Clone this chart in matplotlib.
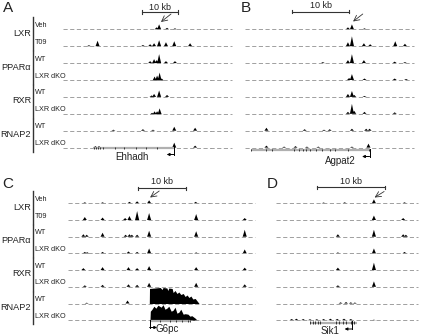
import matplotlib.pyplot as plt
import numpy as np

plt.rcParams['font.family'] = ['Liberation Sans', 'DejaVu Sans']

W, H = 421, 335

factors = ['LXR', 'PPARα', 'RXR', 'RNAP2']
conditions = [['Veh', 'T09'], ['WT', 'LXR dKO'], ['WT', 'LXR dKO'], ['WT', 'LXR dKO']]

# ChIP-seq peaks per track: (position in kb from window start, signal)
# panel A - Ehhadh locus
a_peaks = [
    [(26.0, 2), (26.7, 5), (28.9, 1.5), (31.1, 1)],
    [(7.2, 1), (9.6, 5.5), (22.2, 1.2), (24.2, 2), (25.3, 3), (26.7, 6), (28.6, 4), (30.9, 5), (35.3, 3)],
    [(24.2, 2), (25.3, 4), (26.0, 3), (26.7, 9), (28.6, 2), (31.1, 2)],
    [(25.3, 4), (26.0, 5), (26.7, 8), (27.3, 2)],
    [(24.6, 1.5), (25.3, 3), (26.7, 6.5), (28.9, 2)],
    [(24.6, 1.5), (25.3, 3), (26.0, 3), (26.7, 6)],
    [(14.0, 1), (22.2, 1.5), (25.0, 1), (30.9, 4), (36.7, 3)],
    [(9.0, 1.5), (10.0, 1.5), (30.9, 5), (36.7, 2)],
]
# panel B - Agpat2 locus
b_peaks = [
    [(24.2, 2), (24.9, 5), (27.1, 1)],
    [(24.2, 4), (24.9, 10), (27.0, 3), (28.1, 2), (32.5, 5), (34.2, 2.5)],
    [(19.8, 1), (24.2, 3), (24.9, 9), (27.0, 3), (32.4, 1.5), (34.2, 1)],
    [(24.4, 2), (24.9, 6), (27.1, 1.5), (32.4, 1.5), (34.4, 1)],
    [(24.2, 3), (24.9, 6), (25.3, 2), (27.1, 1)],
    [(24.2, 2), (24.9, 10), (25.3, 3), (27.1, 2), (32.4, 1.5)],
    [(9.9, 3), (16.6, 1.5), (20.0, 1), (21.0, 1.5), (24.9, 2), (27.4, 2), (28.0, 2)],
    [(9.9, 2), (13.0, 1), (15.0, 1.5), (17.0, 1), (19.0, 1), (24.9, 1), (27.8, 4)],
]
# panel C - G6pc locus
c_peaks = [
    [(3.5, 1), (7.2, 1), (12.8, 1.5), (14.4, 2), (16.9, 3), (26.6, 1.5)],
    [(3.5, 3), (7.2, 2.5), (11.9, 2), (12.8, 4), (14.4, 9), (16.9, 7), (26.7, 6)],
    [(3.2, 2.5), (3.9, 2), (7.2, 4), (12.0, 2), (12.8, 2.5), (13.3, 2), (14.4, 2), (16.9, 6), (26.7, 5.5)],
    [(3.5, 1.5), (4.0, 1.2), (7.2, 1.5), (12.6, 2), (14.4, 1.5), (16.9, 5), (26.7, 1)],
    [(3.2, 2), (7.2, 3), (12.6, 3), (14.4, 2), (16.9, 4), (26.7, 3)],
    [(3.5, 1.5), (7.2, 2), (12.6, 2.5), (14.4, 2), (16.9, 4), (26.7, 4)],
    [(3.9, 0.8), (12.4, 3)],
    [],
]
# RNAP2 coverage over the G6pc gene body (kb, signal)
g6pc_wt_kb = [16.94, 16.98, 18.1, 19.2, 19.6, 19.8, 20.6, 20.8, 21.0, 21.7, 21.9, 22.3, 22.7,
              23.1, 23.5, 24.0, 24.4, 24.8, 25.2, 25.6, 26.0, 26.5, 26.9, 27.3]
g6pc_wt_sig = [0, 15, 15.5, 16, 14, 16, 15.5, 13, 15.5, 15, 11, 13, 10,
               11.5, 9, 10, 7, 8.5, 6, 7.5, 4.5, 5, 2.5, 0]
g6pc_ko_kb = [17.08, 17.15, 17.5, 17.9, 18.3, 18.75, 19.4, 19.8, 20.2, 20.6, 21.0, 21.5,
              21.9, 22.3, 22.7, 23.1, 23.5, 24.0, 24.4, 25.0, 25.4, 25.8, 26.5, 26.9]
g6pc_ko_sig = [0, 9, 11, 14, 12, 15, 13, 15.5, 11, 12, 14, 9,
               10, 13, 7, 8, 11, 6, 6.5, 6, 4, 4.5, 2, 0]
# panel D - Sik1 locus
d_peaks = [
    [(17.0, 0.8), (20.1, 1), (24.4, 4), (28.9, 1)],
    [(5.4, 2), (24.4, 4.5), (28.7, 2)],
    [(5.4, 7), (19.1, 2.5), (24.4, 7), (28.7, 2.5), (29.1, 2)],
    [(5.4, 4), (19.1, 1), (24.4, 5), (28.9, 1.5)],
    [(5.4, 2.5), (19.1, 2.5), (24.4, 7.5)],
    [(5.4, 2.5), (19.1, 1.5), (24.4, 5.5)],
    [(19.5, 1.2), (20.3, 1.5), (21.0, 1.2), (21.6, 1)],
    [(12.3, 1.2), (13.0, 1.5), (14.0, 1.2), (15.0, 1), (16.0, 1), (17.0, 1.2), (18.0, 1.5),
     (19.0, 1.3), (20.0, 1.5), (21.0, 1.2), (24.4, 0.5)],
]

# gene models: name, start, end (kb), tss (kb), strand, exon positions (kb)
genes = {
    'A': ('Ehhadh', 8.3, 30.9, 30.9, -1, [8.6, 9.2, 9.8, 10.4, 11.0, 14.5, 17.0, 20.3, 23.0, 26.0]),
    'B': ('Agpat2', 7.2, 28.0, 28.0, -1, [7.2, 9.8, 10.9, 14.7, 15.6, 16.3, 16.8, 17.5, 18.6, 19.6, 21.1, 21.9, 24.2, 27.9]),
    'C': ('G6pc', 17.1, 25.4, 17.0, 1, [17.1, 19.2, 21.3, 22.5, 23.75, 25.0, 25.4]),
    'D': ('Sik1', 15.0, 21.9, 21.2, -1, [15.0, 15.4, 15.8, 16.2, 16.5, 18.8, 19.3, 19.8, 20.3, 21.0, 21.5]),
}

fig = plt.figure(figsize=(W / 100, H / 100), dpi=100)
bg = fig.add_axes([0, 0, 1, 1])
bg.set_xlim(0, W)
bg.set_ylim(H, 0)
bg.axis('off')


def draw_panel(x0, x1, ppk, top, step, peaks, segments):
    span = (x1 - x0) / ppk
    ax = fig.add_axes([x0 / W, 0, (x1 - x0) / W, 1])
    ax.set_xlim(0, span)
    ax.set_ylim(H, 0)
    ax.axis('off')
    xs = np.linspace(0, span, 2000)
    w = 2.1 / ppk
    for i, track in enumerate(peaks):
        base = top + i * step
        for s0, s1 in segments:
            ax.hlines(base, s0, s1, color='#909090', lw=0.6, linestyles=(0, (5, 3)), clip_on=False)
        prof = np.zeros_like(xs)
        for p, h in track:
            prof = np.maximum(prof, h * np.clip(1 - np.abs(xs - p) / w, 0, None) ** 1.1)
        ax.fill_between(xs, base, base - prof, where=prof > 0, color='black', lw=0, clip_on=False)
    return ax


def scale_bar(ax, k0, y, ty):
    ax.plot([k0, k0 + 10], [y, y], color='#333333', lw=0.8, clip_on=False)
    for k in (k0, k0 + 10):
        ax.plot([k, k], [y - 1.8, y + 1.8], color='#333333', lw=0.8, clip_on=False)
    ax.text(k0 + 5, ty, '10 kb', ha='center', va='center', fontsize=6.5, color='#222222')


def peak_arrow(ax, start, end):
    ax.annotate('', xy=end, xytext=start,
                arrowprops=dict(arrowstyle='->', lw=0.6, color='#333333', shrinkA=0, shrinkB=0))


def gene_model(ax, gene, y, ppk):
    name, g0, g1, tss, strand, exons = gene
    ax.plot([g0, g1], [y, y], color='#b0b0b0', lw=1.6, clip_on=False, solid_capstyle='butt')
    ax.vlines(exons, y - 1.2, y + 1.2, color='#202020', lw=0.6, clip_on=False)
    ax.plot([tss, tss], [y - 1.5, y + 6.5], color='black', lw=0.7, clip_on=False)
    ax.annotate('', xy=(tss + strand * 7.5 / ppk, y + 6.5), xytext=(tss, y + 6.5),
                arrowprops=dict(arrowstyle='-|>', lw=0.7, color='black', mutation_scale=4,
                                shrinkA=0, shrinkB=0))


def row_labels(top, step):
    for j, f in enumerate(factors):
        b1 = top + 2 * j * step
        b2 = b1 + step
        mid = (b1 + b2) / 2 - 4.5
        bg.text(31, mid, f, ha='right', va='center', fontsize=6.6, color='#222222')
        bg.plot([33, 33], [b1 - 12, b2 + 4], color='#333333', lw=1.0)
        for b, c in zip((b1, b2), conditions[j]):
            bg.text(35, b - 4, c, ha='left', va='center', fontsize=5.2, color='#222222')


# panel A
axA = draw_panel(63, 212, 3.6, 29.3, 16.9, a_peaks, [(0, 41.0)])
scale_bar(axA, 21.9, 11.7, 7.5)
peak_arrow(axA, (30.0, 14), (27.2, 22))
gene_model(axA, genes['A'], 148, 3.6)
axA.text(19.2, 157.5, genes['A'][0], ha='center', va='center', fontsize=7, color='#222222')

# panel B
axB = draw_panel(210, 416, 5.7, 29.3, 16.9, b_peaks, [(0, 3.9), (6.1, 35.8)])
scale_bar(axB, 14.4, 11.5, 5.8)
peak_arrow(axB, (26.8, 14), (25.1, 21.5))
gene_model(axB, genes['B'], 150, 5.7)
axB.text(22.9, 160.5, genes['B'][0], ha='center', va='center', fontsize=7, color='#222222')

# panel C
axC = draw_panel(68, 212, 4.8, 203.3, 16.7, c_peaks, [(0, 29.5)])
base_wt = 203.3 + 6 * 16.7
base_ko = 203.3 + 7 * 16.7
axC.fill_between(g6pc_wt_kb, base_wt, base_wt - np.array(g6pc_wt_sig), color='black', lw=0, clip_on=False)
axC.fill_between(g6pc_ko_kb, base_ko, base_ko - np.array(g6pc_ko_sig), color='black', lw=0, clip_on=False)
scale_bar(axC, 14.6, 188.3, 181.7)
peak_arrow(axC, (19.0, 191), (17.1, 197.5))
gene_model(axC, genes['C'], 321, 4.8)
axC.text(20.7, 329, genes['C'][0], ha='center', va='center', fontsize=7, color='#222222')

# panel D
axD = draw_panel(208, 418, 6.8, 203.3, 16.7, d_peaks, [(0, 6.9), (10.0, 30.9)])
scale_bar(axD, 16.0, 187.3, 181.5)
peak_arrow(axD, (25.9, 191.5), (24.5, 197.5))
gene_model(axD, genes['D'], 322.5, 6.8)
axD.text(18.0, 331, genes['D'][0], ha='center', va='center', fontsize=7, color='#222222')

# row labels and panel letters
row_labels(29.3, 16.9)
row_labels(203.3, 16.7)
for letter, (lx, ly) in zip('ABCD', [(8, 8), (246, 8), (7.5, 184), (272.5, 184)]):
    bg.text(lx, ly, letter, ha='center', va='center', fontsize=11, color='#222222')

fig.savefig('out.png', dpi=100)
